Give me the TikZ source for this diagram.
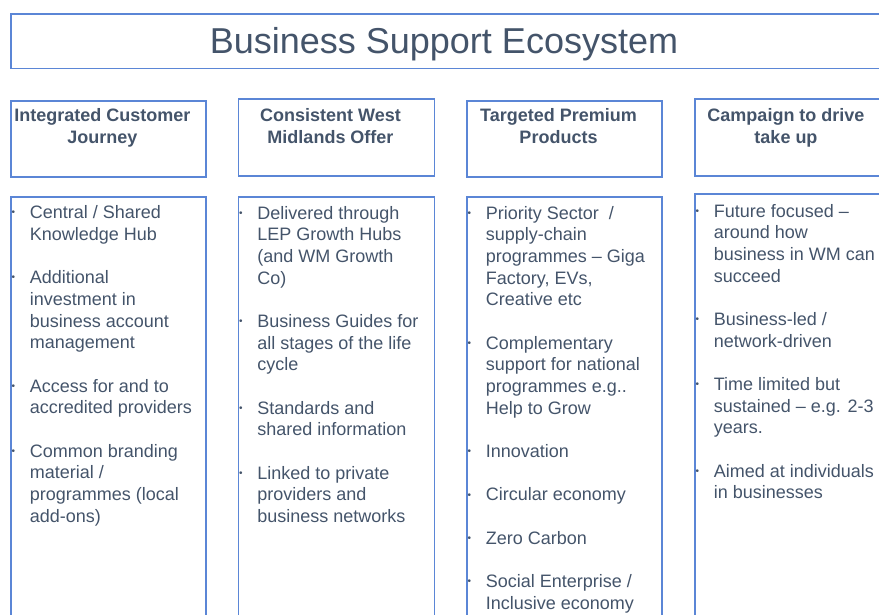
\documentclass[tikz,border=0pt]{standalone}
\usepackage{fontspec}
\setmainfont{Liberation Sans}
\definecolor{frame}{HTML}{5B86D6}
\definecolor{ink}{HTML}{44546A}
% bullet with hanging indent, and indent for continuation lines
\newcommand\bul{\strut\makebox[18.2pt][l]{\raisebox{2.8pt}{\fontsize{10}{10}\selectfont •}}}
\newcommand\ind{\hspace*{18.2pt}}
\newcommand\gap{\\[21.67pt]}
\begin{document}
\begin{tikzpicture}[x=1pt,y=-1pt,
  box/.style={draw=frame,line width=1.6pt,inner sep=0pt,anchor=north west},
  headtext/.style={text=ink,inner sep=0pt,anchor=north,align=center,
    font=\fontsize{18}{21.67}\selectfont\bfseries},
  bodytext/.style={text=ink,inner sep=0pt,anchor=north west,align=left,
    font=\fontsize{18}{21.67}\selectfont}]
\useasboundingbox (0,0) rectangle (879,615);
\clip (0,0) rectangle (879,615);

% title bar
\node[box,minimum width=890pt,minimum height=54.5pt] (titlebox) at (10,13.3) {};
\node[text=ink,inner sep=0pt,anchor=base,font=\fontsize{36}{40}\selectfont]
  (title) at (444,53.3) {Business Support Ecosystem};

% column headers
\node[box,minimum width=195pt,minimum height=76pt] (h1) at (10,100) {};
\node[box,minimum width=196pt,minimum height=76.5pt] (h2) at (237.5,98.5) {};
\node[box,minimum width=195pt,minimum height=76pt] (h3) at (466,100) {};
\node[box,minimum width=195pt,minimum height=76.5pt] (h4) at (694,98.5) {};

\node[headtext] (ht1) at (102.5,106.3) {\strut Integrated Customer\\Journey};
\node[headtext] (ht2) at (330.5,106.3) {\strut Consistent West\\Midlands Offer};
\node[headtext] (ht3) at (558.5,106.3) {\strut Targeted Premium\\Products};
\node[headtext] (ht4) at (786,106.3) {\strut Campaign to drive\\take up};

% column bodies
\node[box,minimum width=195pt,minimum height=440pt] (b1) at (10,196) {};
\node[box,minimum width=196pt,minimum height=440pt] (b2) at (237.5,196) {};
\node[box,minimum width=195pt,minimum height=440pt] (b3) at (466,196.5) {};
\node[box,minimum width=195pt,minimum height=440pt] (b4) at (694,193) {};

\node[bodytext] (bt1) at (11.5,203.3) {%
\bul Central / Shared\\
\ind Knowledge Hub\gap
\bul Additional\\
\ind investment in\\
\ind business account\\
\ind management\gap
\bul Access for and to\\
\ind accredited providers\gap
\bul Common branding\\
\ind material /\\
\ind programmes (local\\
\ind add-ons)};

\node[bodytext] (bt2) at (239,203.8) {%
\bul Delivered through\\
\ind LEP Growth Hubs\\
\ind (and WM Growth\\
\ind Co)\gap
\bul Business Guides for\\
\ind all stages of the life\\
\ind cycle\gap
\bul Standards and\\
\ind shared information\gap
\bul Linked to private\\
\ind providers and\\
\ind business networks};

\node[bodytext] (bt3) at (467.5,203.8) {%
\bul Priority Sector \ /\\
\ind supply-chain\\
\ind programmes – Giga\\
\ind Factory, EVs,\\
\ind Creative etc\gap
\bul Complementary\\
\ind support for national\\
\ind programmes e.g..\\
\ind Help to Grow\gap
\bul Innovation\gap
\bul Circular economy\gap
\bul Zero Carbon\gap
\bul Social Enterprise /\\
\ind Inclusive economy};

\node[bodytext] (bt4) at (695.5,201.8) {%
\bul Future focused –\\
\ind around how\\
\ind business in WM can\\
\ind succeed\gap
\bul Business-led /\\
\ind network-driven\gap
\bul Time limited but\\
\ind sustained – e.g. 2-3\\
\ind years.\gap
\bul Aimed at individuals\\
\ind in businesses};
\end{tikzpicture}
\end{document}
